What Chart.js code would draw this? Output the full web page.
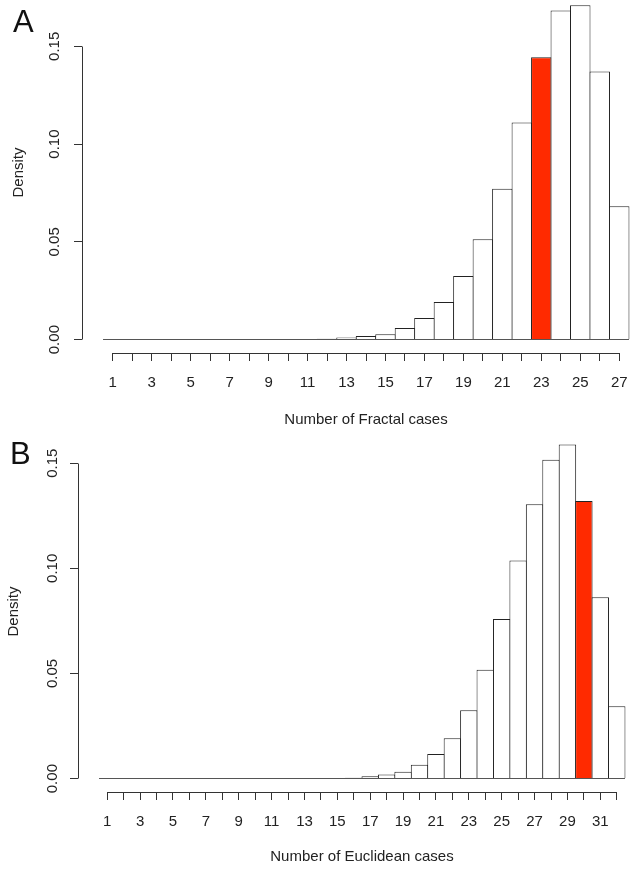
<!DOCTYPE html>
<html>
<head>
<meta charset="utf-8">
<script src="https://cdn.jsdelivr.net/npm/chart.js@4/dist/chart.umd.min.js"></script>
<style>
  html, body { margin: 0; padding: 0; background: #fff; overflow: hidden; }
  #page { position: relative; width: 642px; height: 870px; overflow: hidden; }
  canvas { position: absolute; left: 0; }
  #chartA { top: -8px; }
  #chartB { top: 431px; }
  .tag { position: absolute; z-index: 2; font-family: 'Liberation Sans', Arial, sans-serif; font-size: 31px; line-height: 31px; color: #111; }
</style>
</head>
<body>
<div id="page">
  <canvas id="chartA" width="650" height="437"></canvas>
  <canvas id="chartB" width="646" height="435"></canvas>
  <div class="tag" style="left:13px; top:6px;">A</div>
  <div class="tag" style="left:10px; top:438px;">B</div>
</div>
<script>
// panel A: fractal cases
const fractalCases = [1, 2, 3, 4, 5, 6, 7, 8, 9, 10, 11, 12, 13, 14, 15, 16, 17, 18, 19, 20, 21, 22, 23, 24, 25, 26, 27];
const fractalDensity = [0, 0, 0, 0, 0, 0, 0, 0, 0, 0,
  0.0002, 0.0005, 0.0011, 0.0018, 0.0028, 0.0060, 0.0110, 0.0193, 0.0326, 0.0513,
  0.0772, 0.1111, 0.1444, 0.1684, 0.1710, 0.1372, 0.0682];
const fractalTickLabels = [1, 3, 5, 7, 9, 11, 13, 15, 17, 19, 21, 23, 25, 27];
const fractalObserved = 23;

// panel B: euclidean cases
const euclideanCases = [1, 2, 3, 4, 5, 6, 7, 8, 9, 10, 11, 12, 13, 14, 15, 16, 17, 18, 19, 20, 21, 22, 23, 24, 25, 26, 27, 28, 29, 30, 31, 32];
const euclideanDensity = [0, 0, 0, 0, 0, 0, 0, 0, 0, 0, 0, 0, 0, 0,
  0.0002, 0.0004, 0.0011, 0.0020, 0.0033, 0.0066, 0.0117, 0.0192, 0.0325, 0.0518,
  0.0759, 0.1037, 0.1305, 0.1516, 0.1589, 0.1320, 0.0863, 0.0344];
const euclideanTickLabels = [1, 3, 5, 7, 9, 11, 13, 15, 17, 19, 21, 23, 25, 27, 29, 31];
const euclideanObserved = 30;

const densityTicks = [0, 0.05, 0.10, 0.15];

const FONT = "'Liberation Sans', Arial, sans-serif";
const INK = '#222';

function align(px) {
  return Math.round(px - 0.5) + 0.5;
}

// R-style axes: lines only span the first..last tick, plus the zero baseline under the bars
const rAxes = {
  id: 'rAxes',
  afterDatasetsDraw(chart, args, opts) {
    const { ctx, scales: { x, y } } = chart;
    const cases = opts.cases;
    const first = cases[0], last = cases[cases.length - 1];
    ctx.save();
    ctx.lineWidth = 1;

    ctx.strokeStyle = '#555';
    const y0 = align(y.getPixelForValue(0));
    ctx.beginPath();
    ctx.moveTo(x.getPixelForValue(first - 0.5), y0);
    ctx.lineTo(x.getPixelForValue(last + 0.5), y0);
    ctx.stroke();

    ctx.strokeStyle = '#333';
    const yb = align(x.top);
    ctx.beginPath();
    ctx.moveTo(align(x.getPixelForValue(first)), yb);
    ctx.lineTo(align(x.getPixelForValue(last)), yb);
    ctx.stroke();

    const xl = align(y.right);
    ctx.beginPath();
    ctx.moveTo(xl, align(y.getPixelForValue(densityTicks[0])));
    ctx.lineTo(xl, align(y.getPixelForValue(densityTicks[densityTicks.length - 1])));
    ctx.stroke();
    ctx.restore();
  }
};

function histogram(id, cases, density, tickLabels, observed, xTitle, lay) {
  return new Chart(document.getElementById(id), {
    type: 'bar',
    data: {
      datasets: [{
        data: cases.map((c, i) => ({ x: c, y: density[i] })),
        backgroundColor: cases.map(c => c === observed ? '#ff2a00' : '#ffffff'),
        borderColor: INK,
        borderWidth: { top: 1, left: 1, bottom: 0, right: 1 },
        borderSkipped: false,
        // bars overlap by one pixel so neighbouring edges share a single line
        barPercentage: lay.barPct,
        categoryPercentage: 1
      }]
    },
    options: {
      responsive: false,
      animation: false,
      events: [],
      layout: { padding: 0 },
      plugins: {
        legend: { display: false },
        tooltip: { enabled: false },
        rAxes: { cases: cases }
      },
      scales: {
        x: {
          type: 'linear',
          offset: false,
          min: lay.xMin,
          max: lay.xMax,
          border: { display: false },
          grid: { offset: false, drawOnChartArea: false, tickLength: 8, color: '#333' },
          ticks: {
            autoSkip: false,
            maxRotation: 0,
            minRotation: 0,
            padding: 13,
            color: INK,
            font: { family: FONT, size: 15 },
            callback: v => tickLabels.includes(v) ? String(v) : ''
          },
          title: {
            display: true,
            text: xTitle,
            color: INK,
            font: { family: FONT, size: 15 },
            padding: 0
          },
          afterBuildTicks: s => { s.ticks = cases.map(v => ({ value: v })); },
          afterFit: s => { s.height = lay.xHeight; s.paddingLeft = 0; s.paddingRight = 0; }
        },
        y: {
          min: lay.yMin,
          max: lay.yMax,
          border: { display: false },
          grid: { drawOnChartArea: false, tickLength: 8, color: '#333' },
          ticks: {
            minRotation: 90,
            maxRotation: 90,
            crossAlign: 'center',
            padding: lay.yTickPad,
            color: INK,
            font: { family: FONT, size: 15 },
            callback: v => v.toFixed(2)
          },
          title: {
            display: true,
            text: 'Density',
            color: INK,
            font: { family: FONT, size: 15 },
            padding: { top: lay.yTitlePad, bottom: 0 }
          },
          afterBuildTicks: s => { s.ticks = densityTicks.map(v => ({ value: v })); },
          afterFit: s => { s.width = lay.yWidth; s.paddingTop = 0; s.paddingBottom = 0; }
        }
      }
    },
    plugins: [rAxes]
  });
}

histogram('chartA', fractalCases, fractalDensity, fractalTickLabels, fractalObserved,
  'Number of Fractal cases',
  { xMin: -0.58, xMax: 28.58, yMin: -0.00684, yMax: 0.1778, xHeight: 76, yWidth: 82, yTickPad: 5, yTitlePad: 10, barPct: 1.0513 });

histogram('chartB', euclideanCases, euclideanDensity, euclideanTickLabels, euclideanObserved,
  'Number of Euclidean cases',
  { xMin: -0.78, xMax: 33.78, yMin: -0.00636, yMax: 0.1653, xHeight: 74, yWidth: 78, yTickPad: 3, yTitlePad: 5, barPct: 1.0608 });
</script>
</body>
</html>
